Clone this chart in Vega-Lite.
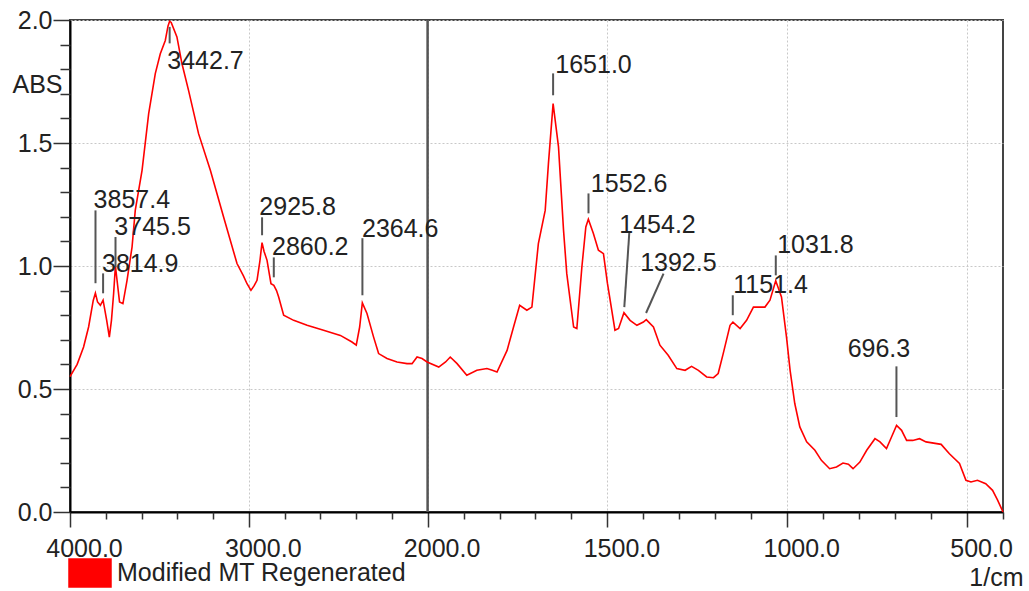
{
  "$schema": "https://vega.github.io/schema/vega-lite/v6.json",
  "width": 933,
  "height": 492,
  "autosize": {"type": "none"},
  "padding": {"left": 70, "top": 20, "right": 26, "bottom": 79},
  "background": "white",
  "config": {
    "view": {"stroke": "#444444", "strokeWidth": 2},
    "font": "Liberation Sans"
  },
  "datasets": {
    "spectrum": [
      {"wn": 4000, "abs": 0.55}, {"wn": 3960, "abs": 0.6}, {"wn": 3924, "abs": 0.671},
      {"wn": 3896, "abs": 0.752}, {"wn": 3870, "abs": 0.86}, {"wn": 3858, "abs": 0.89},
      {"wn": 3846, "abs": 0.854}, {"wn": 3830, "abs": 0.84}, {"wn": 3815, "abs": 0.861},
      {"wn": 3795, "abs": 0.78}, {"wn": 3780, "abs": 0.711}, {"wn": 3768, "abs": 0.78},
      {"wn": 3756, "abs": 0.888}, {"wn": 3746, "abs": 1.0}, {"wn": 3735, "abs": 0.93},
      {"wn": 3723, "abs": 0.854}, {"wn": 3704, "abs": 0.847}, {"wn": 3681, "abs": 0.942},
      {"wn": 3653, "abs": 1.077}, {"wn": 3635, "abs": 1.226}, {"wn": 3597, "abs": 1.389},
      {"wn": 3560, "abs": 1.619}, {"wn": 3523, "abs": 1.782}, {"wn": 3495, "abs": 1.863},
      {"wn": 3467, "abs": 1.917}, {"wn": 3452, "abs": 1.975}, {"wn": 3443, "abs": 1.995},
      {"wn": 3434, "abs": 1.99}, {"wn": 3402, "abs": 1.931}, {"wn": 3374, "abs": 1.823},
      {"wn": 3337, "abs": 1.714}, {"wn": 3281, "abs": 1.538}, {"wn": 3215, "abs": 1.389},
      {"wn": 3141, "abs": 1.199}, {"wn": 3066, "abs": 1.01}, {"wn": 3030, "abs": 0.96},
      {"wn": 3010, "abs": 0.928}, {"wn": 2988, "abs": 0.901}, {"wn": 2970, "abs": 0.92},
      {"wn": 2954, "abs": 0.942}, {"wn": 2938, "abs": 1.02}, {"wn": 2926, "abs": 1.095},
      {"wn": 2915, "abs": 1.06}, {"wn": 2898, "abs": 1.023}, {"wn": 2876, "abs": 0.928},
      {"wn": 2860, "abs": 0.921}, {"wn": 2845, "abs": 0.9}, {"wn": 2833, "abs": 0.874},
      {"wn": 2805, "abs": 0.8}, {"wn": 2749, "abs": 0.779}, {"wn": 2674, "abs": 0.759},
      {"wn": 2582, "abs": 0.739}, {"wn": 2488, "abs": 0.718}, {"wn": 2423, "abs": 0.691},
      {"wn": 2399, "abs": 0.678}, {"wn": 2380, "abs": 0.752}, {"wn": 2365, "abs": 0.85},
      {"wn": 2339, "abs": 0.807}, {"wn": 2302, "abs": 0.711}, {"wn": 2274, "abs": 0.644},
      {"wn": 2227, "abs": 0.624}, {"wn": 2171, "abs": 0.61}, {"wn": 2115, "abs": 0.603},
      {"wn": 2087, "abs": 0.603}, {"wn": 2059, "abs": 0.63}, {"wn": 2031, "abs": 0.624},
      {"wn": 2003, "abs": 0.61}, {"wn": 1969, "abs": 0.589}, {"wn": 1950, "abs": 0.61},
      {"wn": 1937, "abs": 0.63}, {"wn": 1918, "abs": 0.603}, {"wn": 1891, "abs": 0.556},
      {"wn": 1863, "abs": 0.576}, {"wn": 1835, "abs": 0.583}, {"wn": 1820, "abs": 0.576},
      {"wn": 1807, "abs": 0.569}, {"wn": 1779, "abs": 0.657}, {"wn": 1761, "abs": 0.752},
      {"wn": 1744, "abs": 0.84}, {"wn": 1724, "abs": 0.82}, {"wn": 1710, "abs": 0.833},
      {"wn": 1692, "abs": 1.091}, {"wn": 1673, "abs": 1.226}, {"wn": 1664, "abs": 1.416},
      {"wn": 1651, "abs": 1.66}, {"wn": 1636, "abs": 1.484}, {"wn": 1622, "abs": 1.145},
      {"wn": 1613, "abs": 0.969}, {"wn": 1594, "abs": 0.752}, {"wn": 1585, "abs": 0.746},
      {"wn": 1571, "abs": 0.996}, {"wn": 1560, "abs": 1.159}, {"wn": 1553, "abs": 1.19},
      {"wn": 1539, "abs": 1.132}, {"wn": 1525, "abs": 1.064}, {"wn": 1511, "abs": 1.05},
      {"wn": 1500, "abs": 0.93}, {"wn": 1479, "abs": 0.739}, {"wn": 1469, "abs": 0.746},
      {"wn": 1454, "abs": 0.81}, {"wn": 1437, "abs": 0.779}, {"wn": 1418, "abs": 0.759},
      {"wn": 1400, "abs": 0.772}, {"wn": 1392, "abs": 0.782}, {"wn": 1372, "abs": 0.752},
      {"wn": 1354, "abs": 0.678}, {"wn": 1331, "abs": 0.637}, {"wn": 1307, "abs": 0.583},
      {"wn": 1284, "abs": 0.576}, {"wn": 1266, "abs": 0.592}, {"wn": 1247, "abs": 0.576},
      {"wn": 1224, "abs": 0.549}, {"wn": 1205, "abs": 0.546}, {"wn": 1192, "abs": 0.563},
      {"wn": 1178, "abs": 0.644}, {"wn": 1159, "abs": 0.759}, {"wn": 1151, "abs": 0.772},
      {"wn": 1131, "abs": 0.746}, {"wn": 1113, "abs": 0.779}, {"wn": 1094, "abs": 0.833},
      {"wn": 1062, "abs": 0.833}, {"wn": 1048, "abs": 0.861}, {"wn": 1032, "abs": 0.94},
      {"wn": 1016, "abs": 0.874}, {"wn": 1002, "abs": 0.711}, {"wn": 992, "abs": 0.576},
      {"wn": 979, "abs": 0.441}, {"wn": 965, "abs": 0.346}, {"wn": 946, "abs": 0.285},
      {"wn": 923, "abs": 0.251}, {"wn": 905, "abs": 0.21}, {"wn": 882, "abs": 0.176},
      {"wn": 863, "abs": 0.183}, {"wn": 845, "abs": 0.199}, {"wn": 830, "abs": 0.194},
      {"wn": 817, "abs": 0.176}, {"wn": 798, "abs": 0.203}, {"wn": 779, "abs": 0.251},
      {"wn": 756, "abs": 0.298}, {"wn": 742, "abs": 0.285}, {"wn": 724, "abs": 0.258},
      {"wn": 710, "abs": 0.305}, {"wn": 696, "abs": 0.352}, {"wn": 682, "abs": 0.332},
      {"wn": 668, "abs": 0.291}, {"wn": 651, "abs": 0.291}, {"wn": 632, "abs": 0.298},
      {"wn": 614, "abs": 0.285}, {"wn": 572, "abs": 0.275}, {"wn": 549, "abs": 0.237},
      {"wn": 521, "abs": 0.197}, {"wn": 503, "abs": 0.129}, {"wn": 489, "abs": 0.122},
      {"wn": 471, "abs": 0.129}, {"wn": 448, "abs": 0.115}, {"wn": 429, "abs": 0.088},
      {"wn": 415, "abs": 0.048}, {"wn": 400, "abs": 0.0}
    ],
    "peaks": [
      {"label": "3857.4", "x1": 3857.4, "y1": 0.93, "x2": 3857.4, "y2": 1.226, "lx": 3868, "ly": 1.234},
      {"label": "3814.9", "x1": 3814.9, "y1": 0.889, "x2": 3814.9, "y2": 0.97, "lx": 3821, "ly": 0.974},
      {"label": "3745.5", "x1": 3745.5, "y1": 0.995, "x2": 3745.5, "y2": 1.118, "lx": 3752, "ly": 1.125},
      {"label": "3442.7", "x1": 3442.7, "y1": 1.905, "x2": 3442.7, "y2": 1.972, "lx": 3456, "ly": 1.8},
      {"label": "2925.8", "x1": 2925.8, "y1": 1.125, "x2": 2925.8, "y2": 1.198, "lx": 2941, "ly": 1.206},
      {"label": "2860.2", "x1": 2860.2, "y1": 0.954, "x2": 2860.2, "y2": 1.035, "lx": 2870, "ly": 1.043},
      {"label": "2364.6", "x1": 2364.6, "y1": 0.881, "x2": 2364.6, "y2": 1.113, "lx": 2367, "ly": 1.117},
      {"label": "1651.0", "x1": 1651.0, "y1": 1.694, "x2": 1651.0, "y2": 1.783, "lx": 1645, "ly": 1.783},
      {"label": "1552.6", "x1": 1552.6, "y1": 1.214, "x2": 1552.6, "y2": 1.295, "lx": 1546, "ly": 1.299},
      {"label": "1454.2", "x1": 1453, "y1": 0.833, "x2": 1439, "y2": 1.138, "lx": 1467, "ly": 1.133},
      {"label": "1392.5", "x1": 1392.5, "y1": 0.809, "x2": 1344, "y2": 0.969, "lx": 1409, "ly": 0.98},
      {"label": "1151.4", "x1": 1151.4, "y1": 0.8, "x2": 1151.4, "y2": 0.881, "lx": 1150, "ly": 0.889},
      {"label": "1031.8", "x1": 1031.8, "y1": 0.962, "x2": 1031.8, "y2": 1.043, "lx": 1028, "ly": 1.052},
      {"label": "696.3", "x1": 696.3, "y1": 0.386, "x2": 696.3, "y2": 0.592, "lx": 832, "ly": 0.629}
    ]
  },
  "resolve": {"axis": {"x": "independent", "y": "independent"}},
  "layer": [
    {
      "data": {"values": [{"wn": 2000}]},
      "mark": {"type": "rule", "color": "#555555", "strokeWidth": 2.5},
      "encoding": {"x": {"field": "wn", "type": "quantitative", "axis": null}}
    },
    {
      "data": {"name": "spectrum"},
      "mark": {"type": "line", "strokeWidth": 1.6, "interpolate": "linear"},
      "encoding": {
        "x": {
          "field": "wn",
          "type": "quantitative",
          "scale": {"type": "linear", "domain": [4000, 2000, 400], "range": [0, 357.6, 933], "zero": false, "nice": false},
          "axis": {
            "orient": "bottom",
            "values": [4000, 3000, 2000, 1500, 1000, 500],
            "format": ".1f",
            "title": "1/cm",
            "labelFontSize": 25,
            "labelColor": "#222222",
            "labelPadding": 9,
            "labelOffset": 14,
            "labelBaseline": "top",
            "labelFlush": false,
            "labelOverlap": false,
            "labelBound": false,
            "tickColor": "#333333",
            "tickWidth": 1.5,
            "tickSize": 15,
            "domainColor": "#000000",
            "domainWidth": 2,
            "grid": true,
            "gridColor": "#c8c8c8",
            "gridDash": [2, 2],
            "gridWidth": 1,
            "titleFontSize": 25,
            "titleFontWeight": "normal",
            "titleColor": "#222222",
            "titleX": 953,
            "titleY": 73,
            "titleAlign": "right",
            "titleBaseline": "alphabetic",
            "titleAnchor": null
          }
        },
        "y": {
          "field": "abs",
          "type": "quantitative",
          "scale": {"domain": [0, 2], "nice": false, "zero": true},
          "axis": {
            "orient": "left",
            "values": [0, 0.5, 1.0, 1.5, 2.0],
            "format": ".1f",
            "title": "ABS",
            "labelFontSize": 25,
            "labelColor": "#222222",
            "labelPadding": 1,
            "labelBaseline": "middle",
            "labelFlush": false,
            "labelOverlap": false,
            "labelBound": false,
            "tickColor": "#333333",
            "tickWidth": 1.5,
            "tickSize": 17,
            "domainColor": "#000000",
            "domainWidth": 2,
            "grid": true,
            "gridColor": "#c8c8c8",
            "gridDash": [2, 2],
            "gridWidth": 1,
            "titleFontSize": 25,
            "titleFontWeight": "normal",
            "titleColor": "#222222",
            "titleAngle": 0,
            "titleX": -58,
            "titleY": 72,
            "titleAlign": "left",
            "titleBaseline": "alphabetic",
            "titleAnchor": null
          }
        },
        "color": {
          "datum": "Modified MT Regenerated",
          "scale": {"range": ["#ff0000"]},
          "legend": {
            "orient": "none",
            "legendX": -2,
            "legendY": 531,
            "title": null,
            "padding": 0,
            "symbolType": "M-1,-0.667H1V0.667H-1Z",
            "symbolSize": 1764,
            "labelFontSize": 25,
            "labelOffset": 5,
            "labelColor": "#222222",
            "labelLimit": 400,
            "encode": {
              "symbols": {
                "update": {
                  "fill": {"value": "#ff0000"},
                  "stroke": {"value": "#000000"},
                  "strokeWidth": {"value": 1.5},
                  "opacity": {"value": 1}
                }
              }
            }
          }
        }
      }
    },
    {
      "data": {"name": "peaks"},
      "mark": {"type": "rule", "color": "#555555", "strokeWidth": 2},
      "encoding": {
        "x": {"field": "x1", "type": "quantitative", "axis": null},
        "x2": {"field": "x2"},
        "y": {"field": "y1", "type": "quantitative", "axis": null},
        "y2": {"field": "y2"}
      }
    },
    {
      "data": {"name": "peaks"},
      "mark": {"type": "text", "align": "left", "baseline": "alphabetic", "fontSize": 25, "color": "#222222"},
      "encoding": {
        "x": {
          "field": "lx",
          "type": "quantitative",
          "axis": {
            "orient": "bottom",
            "values": [3800, 3600, 3400, 3200, 2800, 2600, 2400, 2200, 1900, 1800, 1700, 1600, 1400, 1300, 1200, 1100, 900, 800, 700, 600, 400],
            "labels": false,
            "domain": false,
            "grid": false,
            "title": null,
            "tickColor": "#333333",
            "tickWidth": 1.5,
            "tickSize": 7
          }
        },
        "y": {
          "field": "ly",
          "type": "quantitative",
          "axis": {
            "orient": "left",
            "values": [0.1, 0.2, 0.3, 0.4, 0.6, 0.7, 0.8, 0.9, 1.1, 1.2, 1.3, 1.4, 1.6, 1.7, 1.8, 1.9],
            "labels": false,
            "domain": false,
            "grid": false,
            "title": null,
            "tickColor": "#333333",
            "tickWidth": 1.5,
            "tickSize": 10
          }
        },
        "text": {"field": "label"}
      }
    }
  ]
}
